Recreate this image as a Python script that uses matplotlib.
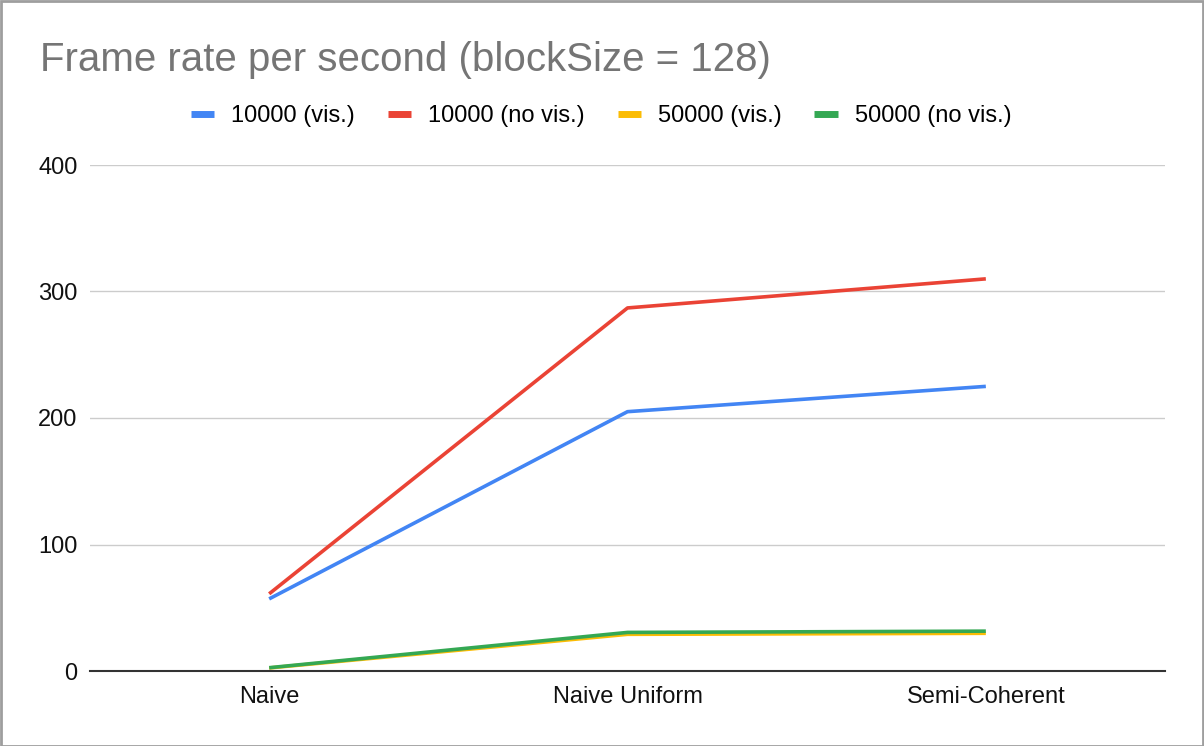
import matplotlib.pyplot as plt
from matplotlib.patches import Rectangle

categories = ["Naive", "Naive Uniform", "Semi-Coherent"]
vis_10k = [57, 205, 225]
novis_10k = [61, 287, 310]
vis_50k = [2.4, 29, 29.8]
novis_50k = [2.6, 30.5, 31.5]

series = [
    ("10000 (vis.)", vis_10k, "#4285f4"),
    ("10000 (no vis.)", novis_10k, "#ea4335"),
    ("50000 (vis.)", vis_50k, "#fbbc04"),
    ("50000 (no vis.)", novis_50k, "#34a853"),
]

plt.rcParams["font.family"] = ["Liberation Sans", "DejaVu Sans"]

W, H = 1204, 746
fig = plt.figure(figsize=(W / 100, H / 100), dpi=100)
ax = fig.add_axes([90 / W, 1 - 671 / H, (1165 - 90) / W, (671 - 165) / H])

x = range(len(categories))
for label, vals, color in series:
    ax.plot(x, vals, color=color, lw=2.6, label=label, solid_capstyle="butt")

ax.set_xlim(-0.5, 2.5)
ax.set_ylim(0, 400)
ax.set_yticks([0, 100, 200, 300, 400])
ax.set_xticks(list(x))
ax.set_xticklabels(categories)
ax.grid(axis="y", color="#cccccc", lw=1)
ax.set_axisbelow(True)
for s in ["top", "right", "left"]:
    ax.spines[s].set_visible(False)
ax.spines["bottom"].set_color("#333333")
ax.spines["bottom"].set_linewidth(1.5)
ax.spines["bottom"].set_zorder(5)
ax.tick_params(axis="both", length=0, labelsize=17, colors="#111111")
ax.tick_params(axis="y", pad=9)
ax.tick_params(axis="x", pad=11)

fig.text(40 / W, 1 - 60 / H, "Frame rate per second (blockSize = 128)",
         fontsize=29, color="#757575", va="center")

handles, labels = ax.get_legend_handles_labels()
leg = fig.legend(handles, labels, loc="center", bbox_to_anchor=(601 / W, 1 - 116 / H),
                 ncol=4, frameon=False, fontsize=17, handlelength=1.0,
                 handletextpad=0.7, columnspacing=1.4)
for h in leg.legend_handles:
    h.set_linewidth(5)

fig.patches.append(Rectangle((0.5 / W, 0.5 / H), 1 - 1.5 / W, 1 - 1.5 / H,
                             transform=fig.transFigure, fill=False,
                             edgecolor="#9e9e9e", lw=2))

fig.savefig("out.png", dpi=100)
